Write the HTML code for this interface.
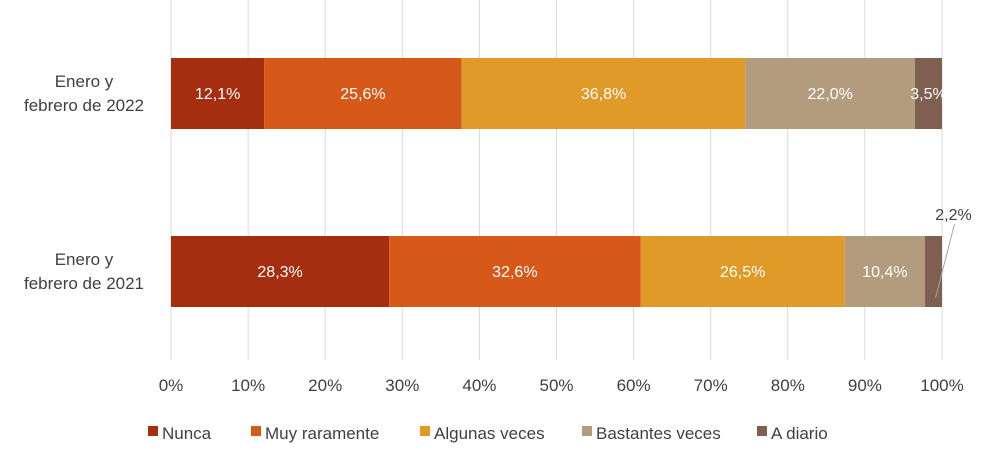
<!DOCTYPE html>
<html><head><meta charset="utf-8"><style>
body{margin:0;background:#fff;font-family:"Liberation Sans",sans-serif;}
svg text{font-family:"Liberation Sans",sans-serif;}
</style></head><body>
<svg id="chart" width="988" height="452" xmlns="http://www.w3.org/2000/svg"></svg>
<script>
const categories = ["Enero y febrero de 2022", "Enero y febrero de 2021"];
const catLines = [["Enero y","febrero de 2022"],["Enero y","febrero de 2021"]];
const seriesNames = ["Nunca","Muy raramente","Algunas veces","Bastantes veces","A diario"];
const nunca = [12.1, 28.3];
const muyRaramente = [25.6, 32.6];
const algunasVeces = [36.8, 26.5];
const bastantesVeces = [22.0, 10.4];
const aDiario = [3.5, 2.2];
const tickLabels = ["0%","10%","20%","30%","40%","50%","60%","70%","80%","90%","100%"];
const colors = ["#A52E10","#D75919","#E09A27","#B39C7E","#7E5F50"];
const seriesData = [nunca, muyRaramente, algunasVeces, bastantesVeces, aDiario];

const svg = document.getElementById('chart');
const NS = "http://www.w3.org/2000/svg";
const x0 = 171, x1 = 942;
const xScale = v => x0 + (x1 - x0) * v / 100;
const barTop = [58, 236], barH = 71;
function mk(tag, attrs){const e=document.createElementNS(NS,tag);for(const k in attrs)e.setAttribute(k,attrs[k]);svg.appendChild(e);return e;}

tickLabels.forEach((t,i)=>{
  const v = i*10;
  const g = mk('line',{x1:xScale(v),x2:xScale(v),y1:0,y2:360,stroke:'#d9d9d9','stroke-width':1});
  
  
  const tx = mk('text',{x:xScale(v),y:391,'text-anchor':'middle','font-size':17,fill:'#404040'});
  tx.textContent = t;
  
  
});

categories.forEach((c,ci)=>{
  const lbl = mk('text',{x:84,'text-anchor':'middle','font-size':17,fill:'#404040'});
  
  
  catLines[ci].forEach((ln,li)=>{
    const ts=document.createElementNS(NS,'tspan');
    ts.setAttribute('x',84);ts.setAttribute('y',barTop[ci]+29+li*24);
    ts.textContent=ln;lbl.appendChild(ts);
  });
  let acc = 0;
  seriesData.forEach((arr,si)=>{
    const v = arr[ci];
    const xa = xScale(acc), xb = xScale(acc+v);
    const r = mk('rect',{x:xa,y:barTop[ci],width:xb-xa,height:barH,fill:colors[si]});
    
    
    const txt = v.toFixed(1).replace('.',',')+'%';
    let tx;
    if (v < 3) {
      const cx = (xa+xb)/2;
      const ln = mk('line',{x1:cx+2,y1:barTop[ci]+62,x2:cx+21,y2:barTop[ci]-12,stroke:'#a6a6a6','stroke-width':1});
      
      
      tx = mk('text',{x:cx+20,y:barTop[ci]-16,'text-anchor':'middle','font-size':16,fill:'#404040'});
    } else {
      tx = mk('text',{x:(xa+xb)/2,y:barTop[ci]+41,'text-anchor':'middle','font-size':16,fill:'#fff'});
    }
    tx.textContent = txt;
    
    
    acc += v;
  });
});

const legX = [148, 251, 420, 582, 757];
seriesNames.forEach((n,i)=>{
  const s = mk('rect',{x:legX[i],y:426,width:10,height:10,fill:colors[i]});
  
  
  const t = mk('text',{x:legX[i]+14,y:439,'font-size':17,fill:'#404040'});
  t.textContent = n;
  
  
});
</script>
</body></html>
